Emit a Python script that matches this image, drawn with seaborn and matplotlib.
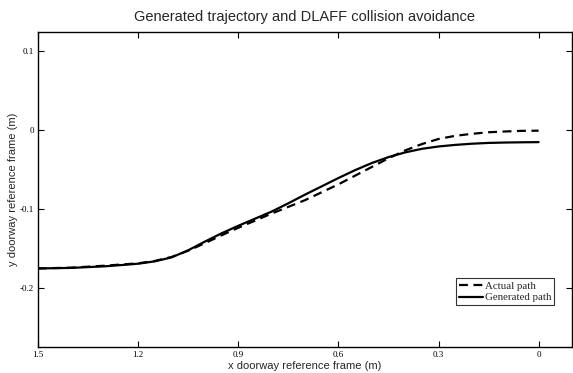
import pandas as pd
import seaborn as sns
import matplotlib
matplotlib.use("Agg")
import matplotlib.pyplot as plt

# values
x_pos = [1.5, 1.4, 1.3, 1.25, 1.2, 1.15, 1.1, 1.05, 1.0, 0.95, 0.9, 0.85,
         0.8, 0.75, 0.7, 0.65, 0.6, 0.55, 0.5, 0.45, 0.4, 0.35, 0.3, 0.25,
         0.2, 0.15, 0.1, 0.05, 0.0]
y_generated = [-0.1755, -0.1748, -0.1728, -0.1712, -0.1695, -0.1665, -0.1615,
               -0.1525, -0.1415, -0.1310, -0.1215, -0.1125, -0.1035, -0.0930,
               -0.0820, -0.0715, -0.0610, -0.0510, -0.0420, -0.0345, -0.0285,
               -0.0240, -0.0210, -0.0190, -0.0175, -0.0165, -0.0160, -0.0157,
               -0.0155]
y_actual = [-0.1755, -0.1745, -0.1720, -0.1705, -0.1690, -0.1660, -0.1610,
            -0.1530, -0.1435, -0.1335, -0.1240, -0.1150, -0.1060, -0.0975,
            -0.0890, -0.0790, -0.0690, -0.0580, -0.0470, -0.0360, -0.0260,
            -0.0180, -0.0115, -0.0075, -0.0050, -0.0030, -0.0020, -0.0012,
            -0.0010]
x_ticks = [1.5, 1.2, 0.9, 0.6, 0.3, 0]
x_ticklabels = ["1.5", "1.2", "0.9", "0.6", "0.3", "0"]
y_ticks = [0.1, 0, -0.1, -0.2]
y_ticklabels = ["0.1", "0", "-0.1", "-0.2"]

df_act = pd.DataFrame({"x": x_pos, "y": y_actual})
df_gen = pd.DataFrame({"x": x_pos, "y": y_generated})

sns.set_style("ticks")
plt.rcParams["font.family"] = ["Liberation Sans", "DejaVu Sans"]

fig = plt.figure(figsize=(5.73, 3.73), dpi=100)
ax = fig.add_axes([38 / 573, 1 - 347 / 373, 534 / 573, 315 / 373])

sns.lineplot(data=df_act, x="x", y="y", color="black", linewidth=1.6,
             label="Actual path", ax=ax, sort=False)
ax.lines[-1].set_dashes((4, 2.5))
sns.lineplot(data=df_gen, x="x", y="y", color="black", linewidth=1.6,
             label="Generated path", ax=ax, sort=False)

ax.set_xlim(1.5, -0.1)
ax.set_ylim(-0.275, 0.124)
ax.set_xticks(x_ticks)
ax.set_xticklabels(x_ticklabels, family="Liberation Serif", fontsize=6.5)
ax.set_yticks(y_ticks)
ax.set_yticklabels(y_ticklabels, family="Liberation Serif", fontsize=6.5)
ax.tick_params(direction="in", length=4, width=0.8, top=True, right=True,
               pad=3, colors="black")
for s in ax.spines.values():
    s.set_linewidth(1.0)
    s.set_color("black")

ax.set_title("Generated trajectory and DLAFF collision avoidance",
             fontsize=10.5, pad=8)
ax.set_xlabel("x doorway reference frame (m)", fontsize=8, labelpad=1)
ax.set_ylabel("y doorway reference frame (m)", fontsize=8, labelpad=1)

leg = ax.legend(loc="lower left", bbox_to_anchor=(0.783, 0.133),
                borderaxespad=0, fancybox=False, frameon=True,
                prop={"family": "Liberation Serif", "size": 7.8},
                handlelength=2.2, handletextpad=0.2, borderpad=0.25,
                labelspacing=0.2)
leg.get_frame().set_edgecolor("black")
leg.get_frame().set_linewidth(0.8)

fig.savefig("out.png", dpi=100)
